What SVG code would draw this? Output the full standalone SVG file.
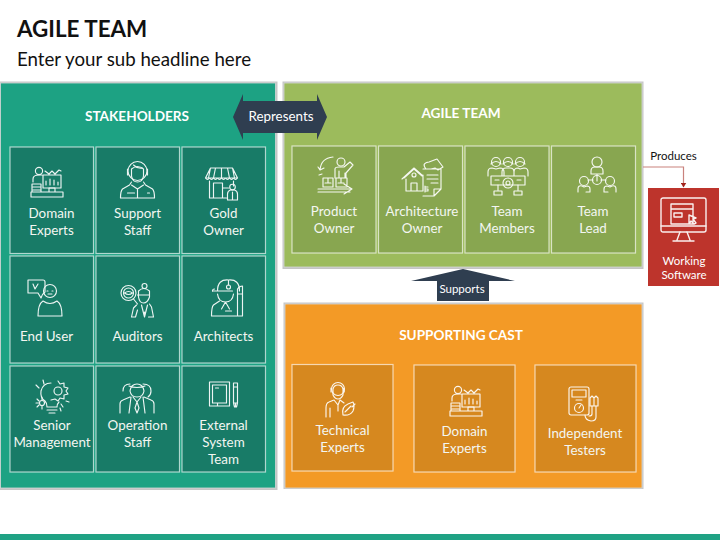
<svg xmlns="http://www.w3.org/2000/svg" width="720" height="540" viewBox="0 0 720 540">
<style>
text{font-family:"Lato","Noto Sans","Liberation Sans",sans-serif;text-anchor:middle;fill:#fff}
.t{font-size:13.4px;fill:#f3f6f1}
.h{font-size:13.6px;font-weight:700}
.shadow{fill:#8c8c8c;opacity:.5}
.panel{stroke:#d4d8d8;stroke-width:.8}
.cell{stroke:#fff;stroke-opacity:.65;stroke-width:1.2}
.ic{fill:none;stroke:#fff;stroke-width:1.15;stroke-linecap:round;stroke-linejoin:round;opacity:.92}
.dark{fill:#2f3e50}
</style>
<defs>
<marker id="ah" markerWidth="6" markerHeight="6" refX="4.5" refY="3" orient="auto" markerUnits="userSpaceOnUse"><path d="M0 0L5 3L0 6Z" fill="#a3231c"/></marker>
<g id="i-domain" class="ic"><circle cx="8" cy="5" r="3.6"/><path d="M2 16v-3q0-4 6-4h3M12 9h18v13H12zM15 19v-4M19 19v-6M23 19v-5M27 19v-3M14 5l4 3 3-3 3 3 4-4 2 1"/><path d="M1 18h9v8H1zM2 21h7M2 24h7M0 26h32v5H0zM18 22h6v4h-6z"/></g>
<g id="i-support" class="ic"><circle cx="17" cy="11" r="9.5"/><path d="M11 9q6-5 12 0v7q-1 6-6 6t-6-6z"/><path d="M7 9v6M27 9v6M13 5q4 4 9 3M11 22l-2 3-7 4q-2 2-2 9h34q0-7-2-9l-7-4-2-3M11 25l6 4 6-4M17 29v9M7 33h7M27 33h2"/></g>
<g id="i-shop" class="ic"><path d="M5 0h22l5 10H0zM0 10q2 3 4 0q2 3 4 0q2 3 4 0q2 3 4 0q2 3 4 0q2 3 4 0q2 3 4 0q2 3 4 0M5 0L3 10M10 0L8 10M16 0v10M22 0l2 10M27 0l2 10M4 13v17h17M28 13v5M8 15h9v15H8zM17 20h6"/><circle cx="27" cy="19" r="2.8"/><path d="M22 32v-6q0-3 3-4h4q3 1 3 4v6zM27 24v8"/></g>
<g id="i-enduser" class="ic"><path d="M1 1h15q2 0 2 2v10q-3 2-4 6l-3-5H1zM6 5l2 5 3-5"/><circle cx="23" cy="12" r="6.5"/><path d="M20 12h1M25 12h1M21 15h4M11 37q0-12 5-15 7 5 14 0 5 3 5 15z"/></g>
<g id="i-auditors" class="ic"><circle cx="8" cy="11" r="7.5"/><circle cx="8" cy="11" r="5"/><path d="M4 11q4-3 8 0q-4 3-8 0M13 17l4 5"/><circle cx="24" cy="4" r="2.5"/><path d="M18 9q5-5 11 0v6q-2 6-6 6t-5-6zM17 13h12M16 23l-3 3-2 9h4l2-7M29 22l2 3 2 10h-5M21 23l3 12 3-12M24 30v5"/></g>
<g id="i-architect" class="ic"><path d="M7 12q0-12 11-11 11-1 11 11M2 12h20M18 1v5"/><circle cx="18" cy="8" r="2"/><path d="M2 12q0-2 2-2M7 15q1 8 8 8t8-8M9 22l-6 4q-2 2-2 11h25M15 23l-4 7M15 23l4 7M27 37V10q2-3 5-3v30zM15 32h6M27 15l5 0"/></g>
<g id="i-senior" class="ic"><circle cx="22" cy="11" r="4"/><path d="M22 1l2 3 4-1 0 4 4 1-2 3 2 3-4 1 0 4-4-1-2 3-3-2-4 1M15 3q-8 0-10 8-1 7 4 10 2 2 2 6h10q0-3 2-5M11 30h10M13 33h6"/><circle cx="6" cy="23" r="2.5"/><path d="M6 17v3M0 23h3M1 19l2 2M1 27l2-2M6 29v-3M0 5l3 3M7 0l1 4M27 27l-2-3M33 22l-3-1M25 31l-1-3"/></g>
<g id="i-operation" class="ic"><path d="M3 9q0-7 7-7M23 2q8 0 8 7 0 4-3 6M10 9q1-7 7-7t7 7q-1 6-7 6t-7-6zM9 4q8 3 16 0"/><path d="M10 15l-7 3q-3 1-3 4v9M24 15l7 3q3 1 3 4v9M11 15l-2 16M23 15l2 16M13 15l4 5 4-5M17 20l-2 6 2 5 2-5z"/></g>
<g id="i-external" class="ic"><path d="M0 0h20v24H0zM3 3h14v18H3zM6 6h3M8 21v3"/><path d="M24 1h4v20h-4zM24 21l1 4h2l1-4M26 25v-4M24 5h4"/></g>
<g id="i-product" class="ic"><circle cx="23" cy="6" r="4"/><path d="M17 22v-9q0-2 4-2h5l6-5 3 3-7 8v5M21 15v7M27 17v5M15 1q-12 1-13 13M2 14l-2-3M2 14l4-2M1 19l3-1M5 22h10v9H5zM18 22h11v9H18zM10 22v5M7 27h6M23 22v5M20 27h6M0 33h32M26 28l8 5-8 5M0 36h32"/></g>
<g id="i-architecture" class="ic"><path d="M2 21L12 12l8 7M0 22l12-11 9 8M4 22v12h17V18M9 34v-8h6v8"/><circle cx="12" cy="18" r="2"/><path d="M21 12h18v20l-7 7H21M32 39v-7h7M24 12q-5-6 3-7l8-3 6 8-5 3-3-2-4 1M25 18h11M25 22h11M29 26h7M23 29v6M26 30h-3v2h3v2h-3"/></g>
<g id="i-members" class="ic"><circle cx="8" cy="6" r="4.5"/><circle cx="20" cy="6" r="4.5"/><circle cx="32" cy="6" r="4.5"/><path d="M3 8q5-5 10 0M15 8q5-5 10 0M27 8q5-5 10 0M0 20v-4q0-4 4-4l4 1 4-1q4 0 4 4v4M14 20v-4q0-4 4-4h4q4 0 4 4v4M26 16q0-4 4-4l2 1 4-1q4 0 4 4v4M3 20h34v9H3zM7 24h4M29 24h4"/><circle cx="20" cy="27" r="5"/><circle cx="20" cy="27" r="2"/><path d="M10 29v5M30 29v5M6 35h8v4H6zM26 35h8v4H26z"/></g>
<g id="i-lead" class="ic"><circle cx="19" cy="6" r="5"/><path d="M13 18v-3q0-4 4-4h4q4 0 4 4v3zM19 18v7"/><circle cx="19" cy="24" r="4.5"/><circle cx="6" cy="25" r="4.500"/><circle cx="32" cy="25" r="4.500"/><path d="M10 24h5M23 24h5M0 36v-3q0-4 4-3l2 1 3-1q3 0 3 3v3H8M38 36v-3q0-4-4-3l-2 1-3-1q-3 0-3 3v3h4"/></g>
<g id="i-technical" class="ic"><circle cx="13" cy="7" r="6.5"/><path d="M8 7q1-4 5-4t5 4v6q-2 4-5 4t-5-4zM6 6v4M19 6v4M9 18l-5 2q-3 1-3 6v9M5 26v9M15 18l4 3M9 18l4 5 2-5M13 23v6"/><path d="M18 33q-2-8 5-11l5-2q2 4 0 9-3 5-10 4zM20 30l6-6M30 22l-3 3"/></g>
<g id="i-testers" class="ic"><rect x="0" y="0" width="20" height="28" rx="2"/><path d="M3 3h14v7H3zM7 13h6"/><circle cx="10" cy="21" r="4.500"/><path d="M10 21l2-3M16 28q0 5 6 6 5 0 5-4V19M23 19v8q0 2-3 2"/><path d="M21 11l2-2 2 2v8h-4zM25 11l2-2 2 2v8h-4z"/></g>
<g id="i-monitor" class="ic" style="stroke-width:1.4"><rect x="0" y="0" width="45" height="34" rx="2"/><path d="M0 28h45M10 6h22v20H10zM10 11h22M13 15h8v4h-8zM28 17l7 3-3 1 3 4-2 1-3-3-2 3zM19 34l-3 8M26 34l3 8M12 43h21"/></g>
</defs>

<rect width="720" height="540" fill="#fff"/>
<g id="title">
<text x="17" y="37" style="text-anchor:start;fill:#111;font-weight:700;font-size:22.4px">AGILE TEAM</text>
<text x="17" y="66" style="text-anchor:start;fill:#111;font-size:18.7px">Enter your sub headline here</text>
</g>
<rect id="footer-bar" x="0" y="534" width="720" height="6" fill="#1fa284"/>

<g id="stakeholders">
<rect class="shadow" x="0" y="81.500" width="277.500" height="408.500"/>
<rect class="panel" x="0.500" y="83" width="275" height="405" fill="#1da283"/>
<text class="h" x="137" y="121">STAKEHOLDERS</text>
</g>
<g id="domain-experts"><rect class="cell" x="10" y="147" width="83.500" height="106.500" fill="#187b67"/><use href="#i-domain" x="31" y="166"/><text class="t" x="51.500" y="218">Domain</text><text class="t" x="51.500" y="235">Experts</text></g>
<g id="support-staff"><rect class="cell" x="96" y="147" width="83.500" height="106.500" fill="#187b67"/><use href="#i-support" x="120.500" y="160"/><text class="t" x="137.500" y="218">Support</text><text class="t" x="137.500" y="235">Staff</text></g>
<g id="gold-owner"><rect class="cell" x="182" y="147" width="83.500" height="106.500" fill="#187b67"/><use href="#i-shop" x="205.500" y="168"/><text class="t" x="223.500" y="218">Gold</text><text class="t" x="223.500" y="235">Owner</text></g>
<g id="end-user"><rect class="cell" x="10" y="256" width="83.500" height="107" fill="#187b67"/><use href="#i-enduser" x="27" y="279"/><text class="t" x="46.500" y="341">End User</text></g>
<g id="auditors"><rect class="cell" x="96" y="256" width="83.500" height="107" fill="#187b67"/><use href="#i-auditors" x="120.500" y="282"/><text class="t" x="137.500" y="341">Auditors</text></g>
<g id="architects"><rect class="cell" x="182" y="256" width="83.500" height="107" fill="#187b67"/><use href="#i-architect" x="210.500" y="279"/><text class="t" x="223.500" y="341">Architects</text></g>
<g id="senior-management"><rect class="cell" x="10" y="366" width="83.500" height="106" fill="#187b67"/><use href="#i-senior" x="36" y="380"/><text class="t" x="52" y="430">Senior</text><text class="t" x="52" y="447">Management</text></g>
<g id="operation-staff"><rect class="cell" x="96" y="366" width="83.500" height="106" fill="#187b67"/><use href="#i-operation" x="120" y="382"/><text class="t" x="137.500" y="430">Operation</text><text class="t" x="137.500" y="447">Staff</text></g>
<g id="external-system-team"><rect class="cell" x="182" y="366" width="83.500" height="106" fill="#187b67"/><use href="#i-external" x="209.500" y="382"/><text class="t" x="223.500" y="430">External</text><text class="t" x="223.500" y="447">System</text><text class="t" x="223.500" y="464">Team</text></g>

<g id="agile-team">
<rect class="shadow" x="282.500" y="81.500" width="361" height="187.500"/>
<rect class="panel" x="284" y="83" width="358" height="184" fill="#9cbb5c"/>
<text class="h" x="461" y="118">AGILE TEAM</text>
</g>
<g id="product-owner"><rect class="cell" x="292" y="146" width="84" height="107" fill="#88a650"/><use href="#i-product" x="318" y="156"/><text class="t" x="334" y="216">Product</text><text class="t" x="334" y="233">Owner</text></g>
<g id="architecture-owner"><rect class="cell" x="378.500" y="146" width="84" height="107" fill="#88a650"/><use href="#i-architecture" x="402" y="157"/><text class="t" x="422" y="216">Architecture</text><text class="t" x="422" y="233">Owner</text></g>
<g id="team-members"><rect class="cell" x="465" y="146" width="84" height="107" fill="#88a650"/><use href="#i-members" x="488" y="156"/><text class="t" x="507" y="216">Team</text><text class="t" x="507" y="233">Members</text></g>
<g id="team-lead"><rect class="cell" x="551.500" y="146" width="84" height="107" fill="#88a650"/><use href="#i-lead" x="578" y="156"/><text class="t" x="593" y="216">Team</text><text class="t" x="593" y="233">Lead</text></g>

<g id="supporting-cast">
<rect class="shadow" x="283.500" y="302.500" width="360" height="186.500"/>
<rect class="panel" x="285" y="304" width="357" height="184" fill="#f39a26"/>
<text class="h" x="461" y="339.500">SUPPORTING CAST</text>
</g>
<g id="technical-experts"><rect class="cell" x="292" y="364.500" width="101" height="106.500" fill="#d6881f"/><use href="#i-technical" x="325" y="382"/><text class="t" x="342.500" y="435">Technical</text><text class="t" x="342.500" y="452">Experts</text></g>
<g id="domain-experts-2"><rect class="cell" x="414" y="365" width="101" height="107" fill="#d6881f"/><use href="#i-domain" x="450" y="385"/><text class="t" x="464.500" y="436">Domain</text><text class="t" x="464.500" y="453">Experts</text></g>
<g id="independent-testers"><rect class="cell" x="535" y="365" width="101" height="107" fill="#d6881f"/><use href="#i-testers" x="569" y="387"/><text class="t" x="585" y="438">Independent</text><text class="t" x="585" y="455">Testers</text></g>

<g id="working-software">
<rect x="648" y="188" width="71" height="98" fill="#bd342c"/>
<use href="#i-monitor" x="661" y="198"/>
<text x="684" y="265" style="font-size:11.500px">Working</text>
<text x="684" y="279" style="font-size:11.500px">Software</text>
</g>

<g id="connectors">
<path d="M643 167H683.500V187" fill="none" stroke="#c9827d" stroke-width="1.2" marker-end="url(#ah)"/>
<text x="673.500" y="160" style="fill:#111;font-size:11.500px">Produces</text>
<g id="represents">
<path class="dark" d="M233 117L243 94V101H317V94L327 117L317 140V133H243V140Z"/>
<text x="281" y="121" style="font-size:13.400px">Represents</text>
</g>
<g id="supports">
<path class="dark" d="M463 269L515 281H489V301H437V281H411Z"/>
<text x="462" y="293" style="font-size:11.500px">Supports</text>
</g>
</g>
</svg>
